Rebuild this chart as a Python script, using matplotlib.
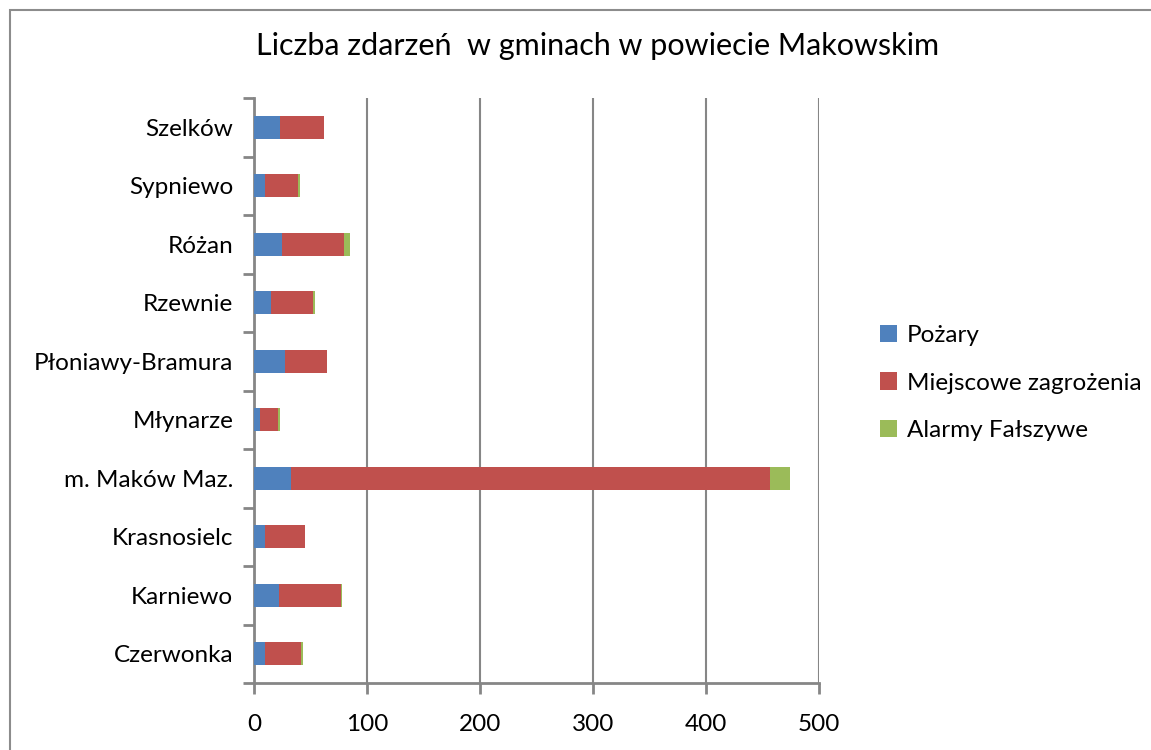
import matplotlib
matplotlib.use("Agg")
from matplotlib import pyplot as plt
from matplotlib.patches import Rectangle
import numpy as np

gminy = ["Czerwonka", "Karniewo", "Krasnosielc", "m. Maków Maz.", "Młynarze",
         "Płoniawy-Bramura", "Rzewnie", "Różan", "Sypniewo", "Szelków"]
pozary = [10, 22, 10, 33, 5, 27, 15, 25, 10, 23]
miejscowe = [32, 55, 35, 424, 16, 38, 37, 55, 29, 39]
alarmy = [1, 1, 0, 17, 2, 0, 2, 5, 2, 0]

serie = ["Pożary", "Miejscowe zagrożenia", "Alarmy Fałszywe"]
kolory = ["#4F81BD", "#C0504D", "#9BBB59"]
GRID = "#868686"

plt.rcParams["font.family"] = ["Lato", "DejaVu Sans"]

fig = plt.figure(figsize=(11.51, 7.5), dpi=100)
ax = fig.add_axes([254 / 1151, 67 / 750, 565 / 1151, 585 / 750])

y = np.arange(len(gminy))
left = np.zeros(len(gminy))
for name, vals, c in zip(serie, [pozary, miejscowe, alarmy], kolory):
    ax.barh(y, vals, left=left, height=0.4, color=c, label=name, zorder=3)
    left += np.array(vals)

ax.set_xlim(0, 500)
ax.set_ylim(-0.5, len(gminy) - 0.5)
ax.set_xticks(range(0, 501, 100))
ax.set_yticks(y)
ax.set_yticklabels(gminy)
ax.set_yticks(np.arange(-0.5, len(gminy), 1), minor=True)
ax.tick_params(axis="y", which="major", length=0, pad=15, labelsize=17.5)
ax.tick_params(axis="y", which="minor", length=8, width=2, color=GRID)
ax.tick_params(axis="x", length=8, width=2, color=GRID, labelsize=17.5, pad=14)

ax.grid(axis="x", color=GRID, linewidth=1.5, zorder=0)
for s in ["top", "right"]:
    ax.spines[s].set_visible(False)
for s in ["left", "bottom"]:
    ax.spines[s].set_color(GRID)
    ax.spines[s].set_linewidth(2)

fig.text(598 / 1151, 1 - 46 / 750, "Liczba zdarzeń  w gminach w powiecie Makowskim",
         ha="center", va="center", fontsize=22)

fig.legend(loc="center left", bbox_to_anchor=(880 / 1151, 1 - 383 / 750),
           frameon=False, fontsize=17.5, handlelength=0.7, handleheight=0.7,
           handletextpad=0.4, labelspacing=1.1, borderaxespad=0, borderpad=0)

fig.patches.append(Rectangle((10 / 1151, -0.1), 1.2, 1.1 - 10 / 750,
                             transform=fig.transFigure, fill=False,
                             edgecolor="#8c8c8c", linewidth=1.5))

fig.savefig("out.png", dpi=100)
